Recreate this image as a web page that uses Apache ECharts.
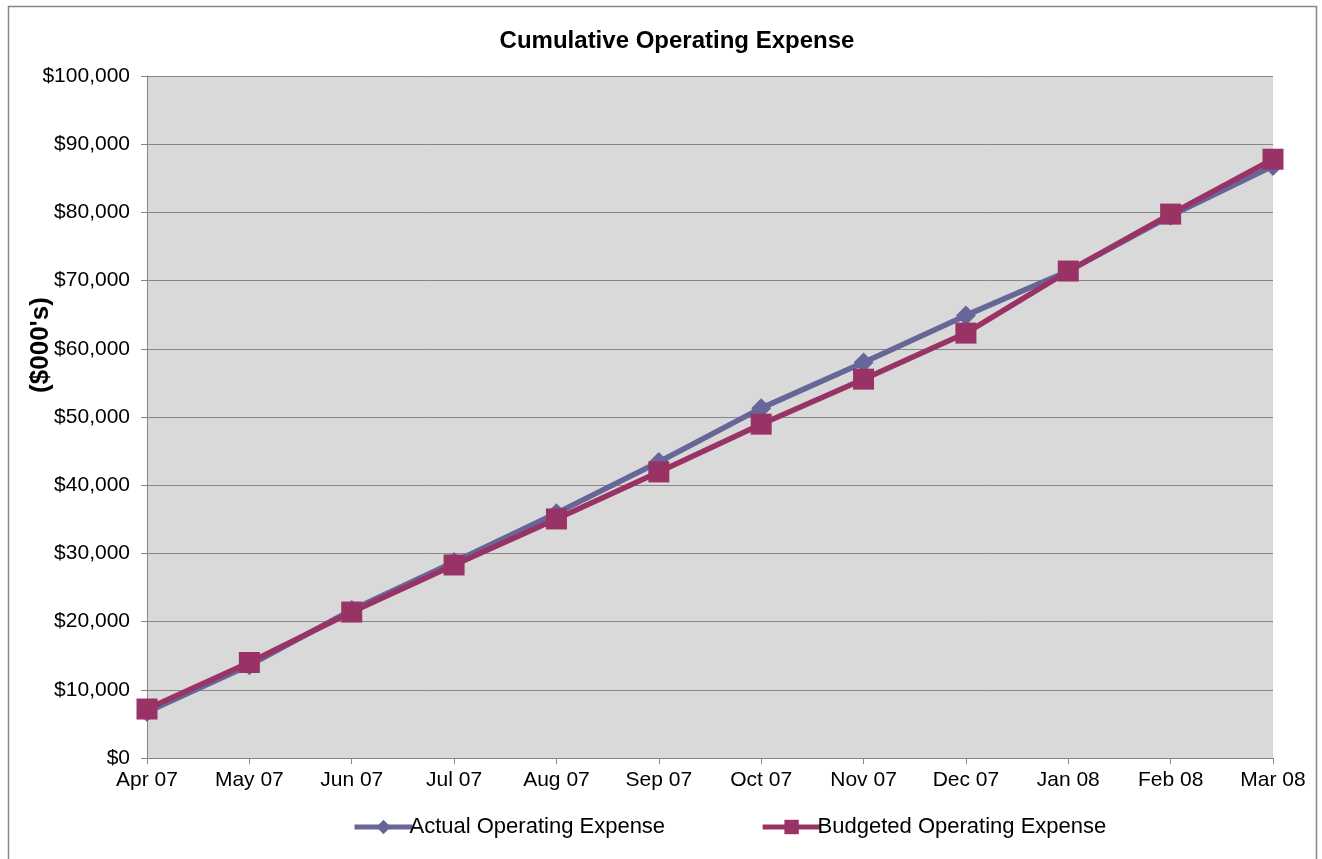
<!DOCTYPE html>
<html>
<head>
<meta charset="utf-8">
<script src="https://cdn.jsdelivr.net/npm/echarts@6/dist/echarts.min.js"></script>
<style>html,body{margin:0;padding:0;background:#fff}#c{width:1322px;height:859px}</style>
</head>
<body>
<div id="c"></div>
<script>
var categories = ['Apr 07','May 07','Jun 07','Jul 07','Aug 07','Sep 07','Oct 07','Nov 07','Dec 07','Jan 08','Feb 08','Mar 08'];
var actual = [6750, 13600, 21700, 28750, 35900, 43400, 51300, 58000, 64900, 71400, 79500, 86800];
var budgeted = [7180, 14000, 21400, 28300, 35050, 41950, 48950, 55550, 62300, 71400, 79750, 87800];
var yAxisTitle = "($000's)";

var chart = echarts.init(document.getElementById('c'));
var font = 'Liberation Sans, Arial, sans-serif';
chart.setOption({
  animation: false,
  backgroundColor: '#ffffff',
  title: {
    text: 'Cumulative Operating Expense',
    left: 672, top: 24, textAlign: 'center',
    textStyle: {fontFamily: font, fontSize: 24, fontWeight: 'bold', color: '#000'}
  },
  graphic: [{
    type: 'rect', left: 6, top: 4, z: -1,
    shape: {width: 1308, height: 870},
    style: {fill: 'none', stroke: '#888', lineWidth: 1.5}
  }, {
    type: 'text', x: 41, y: 345, rotation: Math.PI / 2,
    style: {text: yAxisTitle, align: 'center', verticalAlign: 'middle',
      font: 'bold 26px Liberation Sans, Arial, sans-serif', fill: '#000'}
  }],
  legend: {
    left: 347, top: 811,
    itemWidth: 58, itemHeight: 18, itemGap: 95,
    textStyle: {fontFamily: font, fontSize: 22, color: '#000', padding: [0,0,0,-8]},
    data: [
      {name: 'Actual Operating Expense', lineStyle: {width: 5}},
      {name: 'Budgeted Operating Expense', lineStyle: {width: 5}}
    ]
  },
  grid: {left: 147, right: 49, top: 76, bottom: 101, show: true, backgroundColor: '#d9d9d9', borderWidth: 0},
  xAxis: {
    type: 'category', data: categories, boundaryGap: false,
    axisLine: {lineStyle: {color: '#868686', width: 1}},
    axisTick: {show: true, length: 6, alignWithLabel: true, lineStyle: {color: '#868686'}},
    axisLabel: {fontFamily: font, fontSize: 21, color: '#000', margin: 12, interval: 0},
    splitLine: {show: false}
  },
  yAxis: {
    type: 'value', min: 0, max: 100000, interval: 10000,
    axisLine: {show: true, lineStyle: {color: '#868686', width: 1}},
    axisTick: {show: true, length: 6, lineStyle: {color: '#868686'}},
    axisLabel: {fontFamily: font, fontSize: 21, color: '#000', margin: 17,
      formatter: function(v){ return '$' + v.toLocaleString('en-US'); }},
    splitLine: {show: true, lineStyle: {color: '#868686', width: 1}}
  },
  series: [{
    name: 'Actual Operating Expense', type: 'line', data: actual,
    symbol: 'diamond', symbolSize: 20,
    lineStyle: {color: '#666699', width: 5.5},
    itemStyle: {color: '#666699'}
  }, {
    name: 'Budgeted Operating Expense', type: 'line', data: budgeted,
    symbol: 'rect', symbolSize: 21,
    lineStyle: {color: '#993366', width: 5.5},
    itemStyle: {color: '#993366'}
  }]
});
</script>
</body>
</html>
